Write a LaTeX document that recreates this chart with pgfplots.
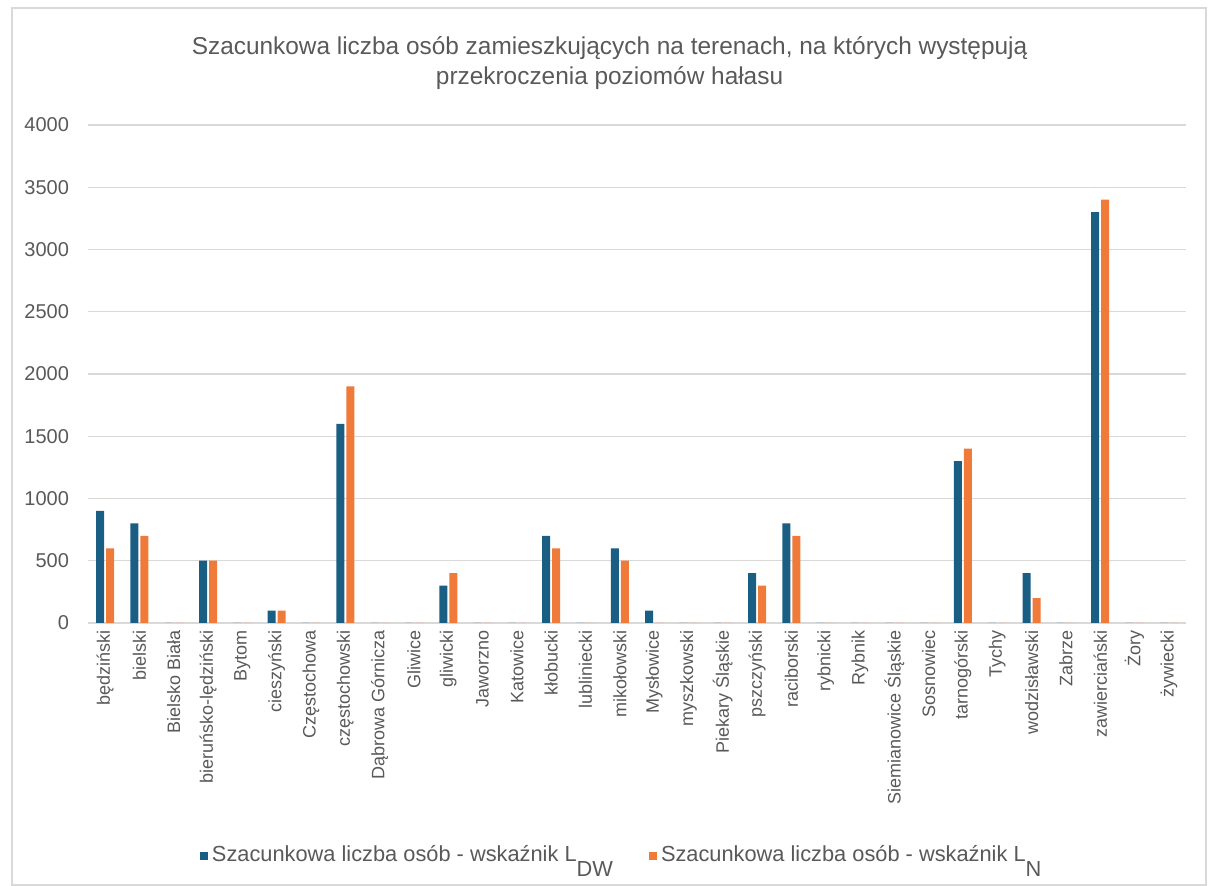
\documentclass[border=0pt]{standalone}
\usepackage{pgfplots}
\pgfplotsset{compat=1.18}
\usepackage{fontspec}
\setmainfont{Liberation Sans}
\definecolor{cblue}{HTML}{1B5E84}
\definecolor{corange}{HTML}{F07A3A}
\definecolor{txt}{HTML}{595959}
\definecolor{gridc}{HTML}{D9D9D9}
\begin{document}
\begin{tikzpicture}
\path[use as bounding box] (0,0) rectangle (607pt,443pt);
\draw[gridc, line width=0.6pt] (6pt,0.5pt) rectangle (603pt,439pt);
\begin{axis}[
  at={(44pt,131.5pt)}, anchor=south west,
  scale only axis, width=549pt, height=249pt,
  ybar=1pt, bar width=4pt,
  xmin=-0.5, xmax=31.5, ymin=0, ymax=4000,
  ytick={0,500,...,4000},
  xtick={0,...,31},
  xticklabels={będziński, bielski, Bielsko Biała, bieruńsko-lędziński, Bytom, cieszyński, Częstochowa, częstochowski, Dąbrowa Górnicza, Gliwice, gliwicki, Jaworzno, Katowice, kłobucki, lubliniecki, mikołowski, Mysłowice, myszkowski, Piekary Śląskie, pszczyński, raciborski, rybnicki, Rybnik, Siemianowice Śląskie, Sosnowiec, tarnogórski, Tychy, wodzisławski, Zabrze, zawierciański, Żory, żywiecki},
  xticklabel style={rotate=90, anchor=east, font=\fontsize{9}{10}\selectfont, text=txt},
  yticklabel style={font=\fontsize{10}{11}\selectfont, text=txt, xshift=-6pt},
  /pgf/number format/assume math mode=true,
  /pgf/number format/1000 sep={},
  major tick length=0pt,
  ymajorgrids, grid style={gridc, line width=0.6pt},
  axis x line*=bottom, axis y line*=left,
  x axis line style={draw=gridc, line width=0.6pt, -},
  y axis line style={draw=none},
  title={Szacunkowa liczba osób zamieszkujących na terenach, na których występują\\przekroczenia poziomów hałasu},
  title style={at={(0.475,1)}, anchor=center, yshift=25pt, align=center, font=\fontsize{12.2}{15}\selectfont, text=txt},
  legend columns=2,
  legend style={at={(0.487,-0.466)}, anchor=center, draw=none, font=\fontsize{10.9}{12}\selectfont, text=txt,
    /tikz/every even column/.append style={column sep=16pt}},
  legend image code/.code={\fill[#1] (0pt,-2.5pt) rectangle (4pt,1.5pt);},
]
\addplot[fill=cblue, draw=none] coordinates {
(0,900) (1,800) (2,0) (3,500) (4,0) (5,100) (6,0) (7,1600) (8,0) (9,0) (10,300) (11,0) (12,0) (13,700) (14,0) (15,600) (16,100) (17,0) (18,0) (19,400) (20,800) (21,0) (22,0) (23,0) (24,0) (25,1300) (26,0) (27,400) (28,0) (29,3300) (30,0) (31,0)};
\addplot[fill=corange, draw=none] coordinates {
(0,600) (1,700) (2,0) (3,500) (4,0) (5,100) (6,0) (7,1900) (8,0) (9,0) (10,400) (11,0) (12,0) (13,600) (14,0) (15,500) (16,0) (17,0) (18,0) (19,300) (20,700) (21,0) (22,0) (23,0) (24,0) (25,1400) (26,0) (27,200) (28,0) (29,3400) (30,0) (31,0)};
\legend{Szacunkowa liczba osób - wskaźnik L\raisebox{-1.3ex}{DW}, Szacunkowa liczba osób - wskaźnik L\raisebox{-1.3ex}{N}}
\end{axis}
\end{tikzpicture}
\end{document}
